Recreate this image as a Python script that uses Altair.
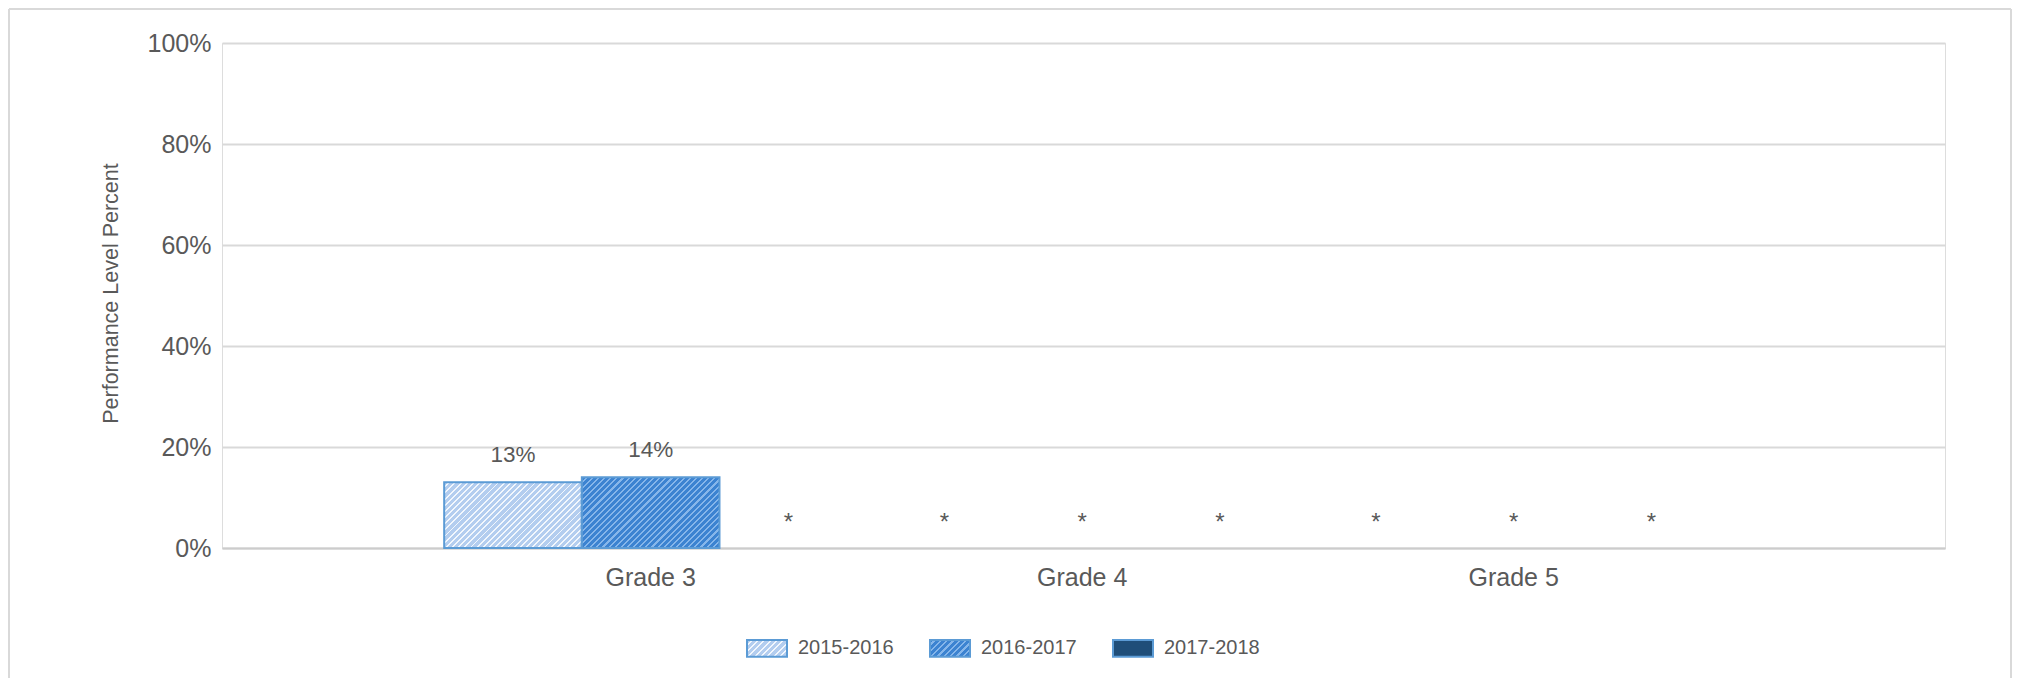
import altair as alt
import pandas as pd

# ---- data ----
grades = ["Grade 3", "Grade 4", "Grade 5"]
years = ["2015-2016", "2016-2017", "2017-2018"]
values_2015_2016 = [13, None, None]
values_2016_2017 = [14, None, None]
values_2017_2018 = [None, None, None]
y_ticks = [0, 20, 40, 60, 80, 100]

rows = []
for yr, vals in zip(years, [values_2015_2016, values_2016_2017, values_2017_2018]):
    for g, v in zip(grades, vals):
        rows.append({"grade": g, "year": yr, "value": v})
df = pd.DataFrame(rows)

FONT = "Liberation Sans, Arial, sans-serif"
TXT = "#595959"
PLOT_W, PLOT_H = 1723, 505
BAR_W = 137.7

LIGHT_BASE, LIGHT_STRIPE = "#b3cdef", "#f2f7fd"
MED_BASE, MED_STRIPE = "#3c83d1", "#86b6ea"
DARK = "#1f4e79"


def stripe_stops(base, stripe, n, frac):
    stops = []
    for i in range(n):
        a = round(i / n, 5)
        b = round((i + 1 - frac) / n, 5)
        c = round((i + 1) / n, 5)
        stops += [
            {"offset": a, "color": base},
            {"offset": b, "color": base},
            {"offset": b, "color": stripe},
            {"offset": c, "color": stripe},
        ]
    return stops


def stripe_vec(w, h):
    r = h / w
    a = (1 + r) / (1 + r * r)
    return round(a, 4), round(a * r, 4)


def bar_gradient(base, stripe, value, frac):
    h = value / 100.0 * PLOT_H
    x2, y2 = stripe_vec(BAR_W, h)
    n = int(round((BAR_W + h) / 6.2))
    return {"gradient": "linear", "x1": 0, "y1": 0, "x2": x2, "y2": y2,
            "stops": stripe_stops(base, stripe, n, frac)}


def legend_gradient_expr(base, stripe, frac):
    x2, y2 = stripe_vec(40, 17)
    stops = stripe_stops(base, stripe, 9, frac)
    s = ",".join("{offset:%s,color:'%s'}" % (st["offset"], st["color"]) for st in stops)
    return "{gradient:'linear',x1:0,y1:0,x2:%s,y2:%s,stops:[%s]}" % (x2, y2, s)


g1 = bar_gradient(LIGHT_BASE, LIGHT_STRIPE, values_2015_2016[0], 0.3)
g2 = bar_gradient(MED_BASE, MED_STRIPE, values_2016_2017[0], 0.35)

x_enc = alt.X(
    "grade:N",
    scale=alt.Scale(domain=grades, paddingInner=0.0429, paddingOuter=0.518, align=0.497),
    axis=alt.Axis(title=None, labelAngle=0, labelFontSize=25, labelColor=TXT,
                  labelFont=FONT, ticks=False, domainColor="#cccccc", domainWidth=2,
                  labelPadding=17, grid=False),
)
xoff_enc = alt.XOffset("year:N", scale=alt.Scale(domain=years, paddingInner=0, paddingOuter=0))
y_scale = alt.Scale(domain=[0, 100])

base = alt.Chart(df)

bars = base.mark_bar(stroke="#5b9bd5", strokeWidth=2).encode(
    x=x_enc,
    xOffset=xoff_enc,
    y=alt.Y(
        "value:Q",
        scale=y_scale,
        axis=alt.Axis(
            values=y_ticks, labelExpr="datum.value + '%'", labelFontSize=25,
            labelColor=TXT, labelFont=FONT, labelPadding=11, ticks=False, domain=False,
            gridColor="#d9d9d9", gridWidth=2,
            title="Performance Level Percent", titleFontSize=21.5, titleFontWeight="normal",
            titleColor=TXT, titleFont=FONT, titleX=-105, titleY=250, titleAngle=270,
            titleBaseline="alphabetic", titleAlign="center",
        ),
    ),
    fill=alt.Fill(
        "year:N",
        scale=alt.Scale(
            domain=years,
            range=[
                {"expr": legend_gradient_expr(LIGHT_BASE, LIGHT_STRIPE, 0.3)},
                {"expr": legend_gradient_expr(MED_BASE, MED_STRIPE, 0.35)},
                DARK,
            ],
        ),
        legend=alt.Legend(
            title=None, orient="none", legendX=524, legendY=584, direction="horizontal",
            symbolType="M-1,-0.42H1V0.42H-1Z", symbolSize=1600,
            symbolStrokeColor="#5b9bd5", symbolStrokeWidth=2,
            labelFontSize=20, labelColor=TXT, labelFont=FONT, labelOffset=10,
            columnPadding=32, padding=0,
        ),
        condition=[
            {"test": "datum.year === '2015-2016'", "value": g1},
            {"test": "datum.year === '2016-2017'", "value": g2},
        ],
    ),
)

labels = base.transform_filter("datum.value != null").transform_calculate(
    label="datum.value + '%'"
).mark_text(dy=-20, fontSize=22.5, color=TXT, font=FONT, baseline="alphabetic").encode(
    x=x_enc, xOffset=xoff_enc, y=alt.Y("value:Q", scale=y_scale), text="label:N"
)

stars = base.transform_filter("datum.value == null").transform_calculate(
    zero="0"
).mark_text(text="*", dy=-18, fontSize=24, color=TXT, font=FONT, baseline="alphabetic").encode(
    x=x_enc, xOffset=xoff_enc, y=alt.Y("zero:Q", scale=y_scale)
)

frame_data = alt.Data(values=[{"f": 1}])
frame_left = alt.Chart(frame_data).mark_rule(color="#d9d9d9", strokeWidth=2).encode(
    x=alt.value(-213), y=alt.value(-34), y2=alt.value(635))
frame_right = alt.Chart(frame_data).mark_rule(color="#d9d9d9", strokeWidth=2).encode(
    x=alt.value(1789), y=alt.value(-34), y2=alt.value(635))
frame_top = alt.Chart(frame_data).mark_rule(color="#d9d9d9", strokeWidth=2).encode(
    x=alt.value(-213), x2=alt.value(1789), y=alt.value(-34))

chart = alt.layer(bars, labels, stars, frame_left, frame_right, frame_top).properties(
    width=PLOT_W, height=PLOT_H,
    autosize=alt.AutoSizeParams(type="none"),
    padding={"left": 214, "top": 35, "right": 67, "bottom": 130},
).configure_view(stroke=None).configure(font=FONT)

chart.save("out.html", embed_options={"renderer": "svg", "actions": False})
